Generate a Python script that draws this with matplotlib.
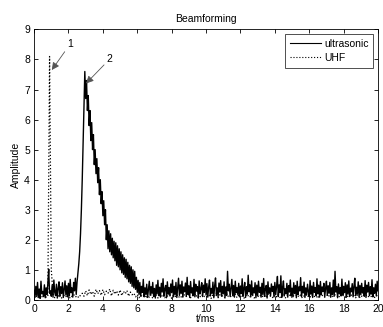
import numpy as np
import matplotlib
matplotlib.use("Agg")
import matplotlib.pyplot as plt

plt.rcParams['font.family'] = ['Liberation Sans', 'DejaVu Sans']

# sample spacing of the two traces (ms)
us_step = 0.05
uhf_step = 0.1

ultrasonic = [
    0.32,0.08,0.45,0.15,0.58,0.10,0.36,0.05,0.62,0.20,0.28,0.12,0.50,0.07,0.40,0.18,0.55,1.02,0.22,0.30,
    0.12,0.48,0.09,0.66,0.25,0.14,0.52,0.06,0.38,0.60,0.11,0.44,0.21,0.57,0.08,0.35,0.63,0.16,0.47,0.10,
    0.55,0.13,0.68,0.24,0.40,0.09,0.58,0.30,0.72,0.18,0.60,0.90,1.20,1.60,2.20,3.00,4.00,5.20,6.50,7.60,
    6.70,7.30,6.30,6.80,5.80,6.30,5.30,5.90,5.00,5.50,4.50,5.00,4.20,4.70,3.90,4.40,3.50,4.00,3.20,3.60,
    2.80,3.30,2.50,3.00,2.00,2.50,1.70,2.30,1.60,2.20,1.50,2.05,1.40,1.95,1.30,1.90,1.15,1.80,1.10,1.70,
    1.00,1.60,0.90,1.50,0.85,1.40,0.75,1.35,0.70,1.25,0.60,1.15,0.55,1.10,0.45,1.00,0.40,0.95,0.35,0.75,
    0.25,0.65,0.18,0.58,0.12,0.45,0.25,0.68,0.10,0.40,0.18,0.52,0.08,0.35,0.62,0.15,0.44,0.22,0.58,0.11,
    0.38,0.06,0.50,0.20,0.65,0.14,0.42,0.09,0.55,0.26,0.70,0.12,0.36,0.48,0.07,0.60,0.19,0.41,0.13,0.53,
    0.24,0.66,0.10,0.45,0.17,0.58,0.08,0.39,0.72,0.15,0.50,0.21,0.62,0.09,0.43,0.27,0.56,0.12,0.75,0.18,
    0.47,0.08,0.61,0.23,0.40,0.14,0.68,0.10,0.52,0.29,0.44,0.06,0.63,0.20,0.37,0.57,0.11,0.49,0.25,0.70,
    0.16,0.54,0.09,0.42,0.66,0.13,0.38,0.22,0.59,0.07,0.47,0.73,0.18,0.40,0.10,0.56,0.26,0.64,0.12,0.45,
    0.20,0.60,0.08,0.43,0.15,0.95,0.30,0.52,0.11,0.39,0.68,0.14,0.48,0.09,0.62,0.24,0.41,0.17,0.55,0.10,
    0.46,0.21,0.70,0.12,0.38,0.58,0.08,0.44,0.19,0.82,0.27,0.50,0.10,0.63,0.16,0.40,0.23,0.57,0.07,0.49,
    0.14,0.62,0.25,0.42,0.09,0.55,0.18,0.71,0.12,0.36,0.48,0.06,0.60,0.22,0.40,0.13,0.53,0.28,0.45,0.10,
    0.58,0.17,0.44,0.78,0.11,0.50,0.24,0.80,0.08,0.41,0.63,0.15,0.37,0.20,0.55,0.09,0.47,0.26,0.66,0.13,
    0.39,0.10,0.57,0.21,0.48,0.07,0.62,0.18,0.43,0.30,0.74,0.12,0.45,0.23,0.59,0.08,0.40,0.16,0.52,0.27,
    0.11,0.64,0.19,0.46,0.08,0.58,0.25,0.41,0.14,0.70,0.20,0.49,0.09,0.61,0.17,0.43,0.28,0.55,0.10,0.38,
    0.62,0.15,0.47,0.22,0.58,0.09,0.40,0.18,0.66,0.12,0.95,0.26,0.44,0.07,0.53,0.20,0.41,0.13,0.69,0.16,
    0.45,0.24,0.57,0.08,0.50,0.19,0.63,0.11,0.39,0.27,0.54,0.10,0.46,0.72,0.14,0.42,0.21,0.60,0.09,0.48,
    0.17,0.55,0.23,0.41,0.12,0.64,0.08,0.49,0.26,0.58,0.14,0.44,0.19,0.67,0.10,0.40,0.22,0.52,0.13,0.62,
    0.30,
]

uhf = [
    0.08,0.15,0.05,0.12,0.18,0.06,0.14,0.09,0.10,8.10,
    1.00,0.20,0.07,0.16,0.11,0.19,0.06,0.13,0.17,0.08,
    0.15,0.05,0.12,0.18,0.09,0.14,0.07,0.16,0.22,0.12,
    0.30,0.14,0.33,0.18,0.28,0.12,0.35,0.20,0.31,0.15,
    0.34,0.17,0.29,0.22,0.36,0.13,0.32,0.19,0.30,0.16,
    0.33,0.14,0.28,0.20,0.31,0.12,0.26,0.17,0.22,0.10,
    0.18,0.07,0.15,0.11,0.19,0.06,0.14,0.09,0.17,0.05,
    0.13,0.18,0.06,0.15,0.10,0.19,0.07,0.14,0.12,0.17,
    0.05,0.16,0.11,0.18,0.08,0.14,0.06,0.19,0.10,0.13,
    0.17,0.07,0.15,0.12,0.20,0.06,0.14,0.09,0.18,0.11,
    0.08,0.16,0.13,0.05,0.19,0.10,0.15,0.07,0.17,0.12,
    0.14,0.06,0.18,0.11,0.09,0.16,0.13,0.20,0.07,0.15,
    0.10,0.17,0.05,0.14,0.19,0.08,0.12,0.16,0.06,0.18,
    0.13,0.09,0.17,0.11,0.15,0.07,0.20,0.12,0.14,0.06,
    0.16,0.10,0.18,0.08,0.13,0.19,0.05,0.15,0.11,0.17,
    0.07,0.14,0.12,0.18,0.09,0.16,0.06,0.13,0.19,0.10,
    0.15,0.08,0.17,0.11,0.14,0.05,0.18,0.12,0.16,0.09,
    0.12,0.19,0.07,0.15,0.10,0.17,0.13,0.06,0.18,0.11,
    0.16,0.09,0.14,0.08,0.19,0.12,0.15,0.07,0.17,0.10,
    0.06,0.18,0.13,0.16,0.09,0.14,0.11,0.19,0.08,0.15,
    0.12,
]

x_ticks = list(range(0, 21, 2))
y_ticks = list(range(0, 10))

t_us = np.arange(len(ultrasonic)) * us_step
t_uhf = np.arange(len(uhf)) * uhf_step

fs = 7.5

fig = plt.figure(figsize=(3.83, 3.27), dpi=100)
ax = fig.add_axes([0.089, 0.083, 0.898, 0.827])

ax.plot(t_us, ultrasonic, color='black', lw=1.0, label='ultrasonic')
ax.plot(t_uhf, uhf, color='black', lw=0.9, ls=':', label='UHF')

ax.set_xlim(0, 20)
ax.set_ylim(0, 9)
ax.set_xticks(x_ticks)
ax.set_yticks(y_ticks)
ax.tick_params(direction='in', top=True, right=True, labelsize=fs, length=3, width=0.6, pad=3)
for s in ax.spines.values():
    s.set_linewidth(0.6)

ax.set_title('Beamforming', fontsize=fs, pad=5)
ax.set_xlabel('t/ms', fontsize=fs, labelpad=0)
ax.set_ylabel('Amplitude', fontsize=fs, labelpad=2)

leg = ax.legend(loc='upper right', fontsize=fs, frameon=True, fancybox=False,
                edgecolor='black', handlelength=3.0, handletextpad=0.3,
                borderpad=0.45, labelspacing=0.4, borderaxespad=0.45)
leg.get_frame().set_linewidth(0.6)
for h in leg.get_lines():
    h.set_linewidth(0.8)

arrowprops = dict(arrowstyle='-|>', color='#555555', lw=0.6, mutation_scale=11,
                  shrinkA=0, shrinkB=0)
ax.annotate('1', xy=(1.03, 7.65), xytext=(2.1, 8.35), fontsize=fs,
            ha='center', va='bottom', arrowprops=arrowprops)
ax.annotate('2', xy=(3.02, 7.2), xytext=(4.4, 7.85), fontsize=fs,
            ha='center', va='bottom', arrowprops=arrowprops)

fig.savefig('out.png', dpi=100)
